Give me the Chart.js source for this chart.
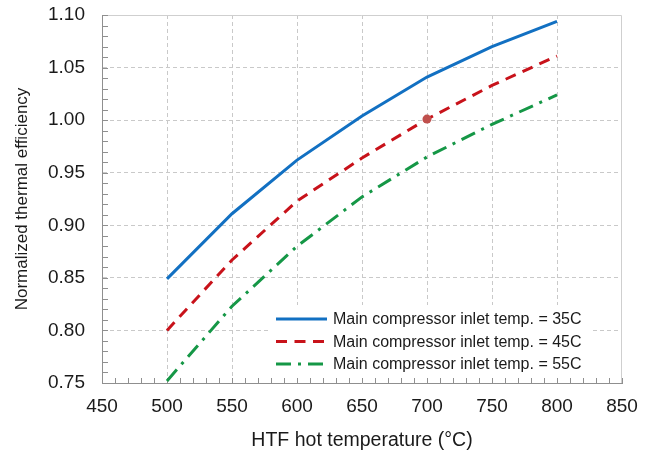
<!DOCTYPE html>
<html>
<head>
<meta charset="utf-8">
<script src="https://cdn.jsdelivr.net/npm/chart.js@4.4.1/dist/chart.umd.min.js"></script>
<style>
  html, body { margin: 0; padding: 0; background: #fff; }
  #wrap { width: 649px; height: 454px; }
</style>
</head>
<body>
<div id="wrap"><canvas id="effChart" width="649" height="454"></canvas></div>
<script>
// HTF hot temperature (°C)
var temps = [500, 550, 600, 650, 700, 750, 800];
// normalized thermal efficiency per main compressor inlet temperature
var eff35 = [0.849, 0.911, 0.962, 1.004, 1.041, 1.070, 1.094];
var eff45 = [0.800, 0.867, 0.923, 0.964, 1.001, 1.033, 1.061];
var eff55 = [0.752, 0.823, 0.880, 0.927, 0.965, 0.996, 1.024];
var seriesNames = [
    'Main compressor inlet temp. = 35C',
    'Main compressor inlet temp. = 45C',
    'Main compressor inlet temp. = 55C'
];
// design point
var designT = [700];
var designEff = [1.001];

var xTicks = [450, 500, 550, 600, 650, 700, 750, 800, 850];
var yTicks = [0.75, 0.80, 0.85, 0.90, 0.95, 1.00, 1.05, 1.10];

var fontFamily = "'Liberation Sans', Arial, sans-serif";

function toPoints(xs, ys) {
    return xs.map(function (x, i) { return { x: x, y: ys[i] }; });
}

// frame, inward minor ticks and the boxed legend
var decorations = {
    id: 'decorations',
    beforeDatasetsDraw: function (chart) {
        var ctx = chart.ctx;
        var a = chart.chartArea;
        var xs = chart.scales.x, ys = chart.scales.y;
        ctx.save();
        ctx.lineWidth = 1;
        // top and right edges
        ctx.strokeStyle = '#cfcfcf';
        ctx.beginPath();
        ctx.moveTo(a.left, a.top + 0.5);
        ctx.lineTo(a.right - 0.5, a.top + 0.5);
        ctx.lineTo(a.right - 0.5, a.bottom);
        ctx.stroke();
        // minor ticks
        ctx.strokeStyle = '#8f8f8f';
        ctx.beginPath();
        for (var v = 450; v <= 850; v += 10) {
            var px = Math.round(xs.getPixelForValue(v)) + 0.5;
            ctx.moveTo(px, a.bottom);
            ctx.lineTo(px, a.bottom - 5);
        }
        for (var k = 75; k <= 110; k++) {
            var py = Math.round(ys.getPixelForValue(k / 100)) + 0.5;
            ctx.moveTo(a.left, py);
            ctx.lineTo(a.left + 6, py);
        }
        ctx.stroke();
        ctx.restore();
    },
    afterDatasetsDraw: function (chart) {
        var ctx = chart.ctx;
        var a = chart.chartArea;
        var boxL = a.left + 166, boxR = a.right - 29;
        var boxT = a.bottom - 78, boxB = a.bottom - 7;
        ctx.save();
        ctx.fillStyle = '#ffffff';
        ctx.fillRect(boxL, boxT, boxR - boxL, boxB - boxT);
        ctx.font = '16px ' + fontFamily;
        ctx.textBaseline = 'middle';
        ctx.fillStyle = '#1a1a1a';
        for (var i = 0; i < 3; i++) {
            var ds = chart.data.datasets[i];
            var rowY = boxT + 14 + i * 22.5;
            ctx.strokeStyle = ds.borderColor;
            ctx.lineWidth = ds.borderWidth;
            ctx.setLineDash(ds.borderDash || []);
            ctx.beginPath();
            ctx.moveTo(boxL + 8, rowY);
            ctx.lineTo(boxL + 59, rowY);
            ctx.stroke();
            ctx.setLineDash([]);
            ctx.fillText(ds.label, boxL + 65, rowY + 1);
        }
        ctx.restore();
    }
};

var lineStyle = { fill: false, tension: 0, pointRadius: 0, borderWidth: 3, borderCapStyle: 'butt' };

var data = {
    datasets: [
        Object.assign({
            label: seriesNames[0],
            data: toPoints(temps, eff35),
            borderColor: '#1270c2'
        }, lineStyle),
        Object.assign({
            label: seriesNames[1],
            data: toPoints(temps, eff45),
            borderColor: '#c8121a',
            borderDash: [11, 7.5]
        }, lineStyle),
        Object.assign({
            label: seriesNames[2],
            data: toPoints(temps, eff55),
            borderColor: '#159746',
            borderDash: [15, 7, 3, 7]
        }, lineStyle),
        {
            label: 'Design point',
            data: toPoints(designT, designEff),
            order: -1,
            showLine: false,
            pointRadius: 4.5,
            pointBackgroundColor: '#c0504d',
            pointBorderColor: '#c0504d',
            pointBorderWidth: 0
        }
    ]
};

var options = {
    responsive: false,
    animation: false,
    layout: { padding: { top: 15, right: 27, left: 0, bottom: 0 } },
    plugins: {
        legend: { display: false },
        tooltip: { enabled: false }
    },
    scales: {
        x: {
            type: 'linear',
            min: 450,
            max: 850,
            afterBuildTicks: function (s) { s.ticks = xTicks.map(function (v) { return { value: v }; }); },
            afterFit: function (s) {
                s.height = 71;
                s.paddingLeft = 0;
                s.paddingRight = 0;
            },
            ticks: {
                color: '#1a1a1a',
                font: { family: fontFamily, size: 19 },
                padding: 12,
                maxRotation: 0
            },
            grid: {
                drawTicks: false,
                color: function (c) { return (c.tick && (c.tick.value === 450 || c.tick.value === 850)) ? 'rgba(0,0,0,0)' : '#c9c9c9'; },
                lineWidth: 1
            },
            border: { display: true, color: '#8f8f8f', dash: [4, 3], width: 1 },
            title: {
                display: true,
                text: 'HTF hot temperature (°C)',
                color: '#1a1a1a',
                font: { family: fontFamily, size: 19.5 },
                padding: { top: 0, bottom: 2 }
            }
        },
        y: {
            min: 0.75,
            max: 1.10,
            afterBuildTicks: function (s) { s.ticks = yTicks.map(function (v) { return { value: v }; }); },
            afterFit: function (s) {
                s.width = 102;
                s.paddingTop = 0;
                s.paddingBottom = 0;
            },
            ticks: {
                color: '#1a1a1a',
                font: { family: fontFamily, size: 19 },
                padding: 17,
                callback: function (v) { return Number(v).toFixed(2); }
            },
            grid: {
                drawTicks: false,
                color: function (c) { return (c.tick && (Math.abs(c.tick.value - 0.75) < 1e-9 || Math.abs(c.tick.value - 1.10) < 1e-9)) ? 'rgba(0,0,0,0)' : '#c9c9c9'; },
                lineWidth: 1
            },
            border: { display: true, color: '#8f8f8f', dash: [4, 3], width: 1 },
            title: {
                display: true,
                text: 'Normalized thermal efficiency',
                color: '#1a1a1a',
                font: { family: fontFamily, size: 17 },
                padding: { top: 12, bottom: 0 }
            }
        }
    }
};

var context = document.getElementById('effChart').getContext('2d');
var effChart = new Chart(context, {
    type: 'line',
    data: data,
    options: options,
    plugins: [decorations]
});
</script>
</body>
</html>
